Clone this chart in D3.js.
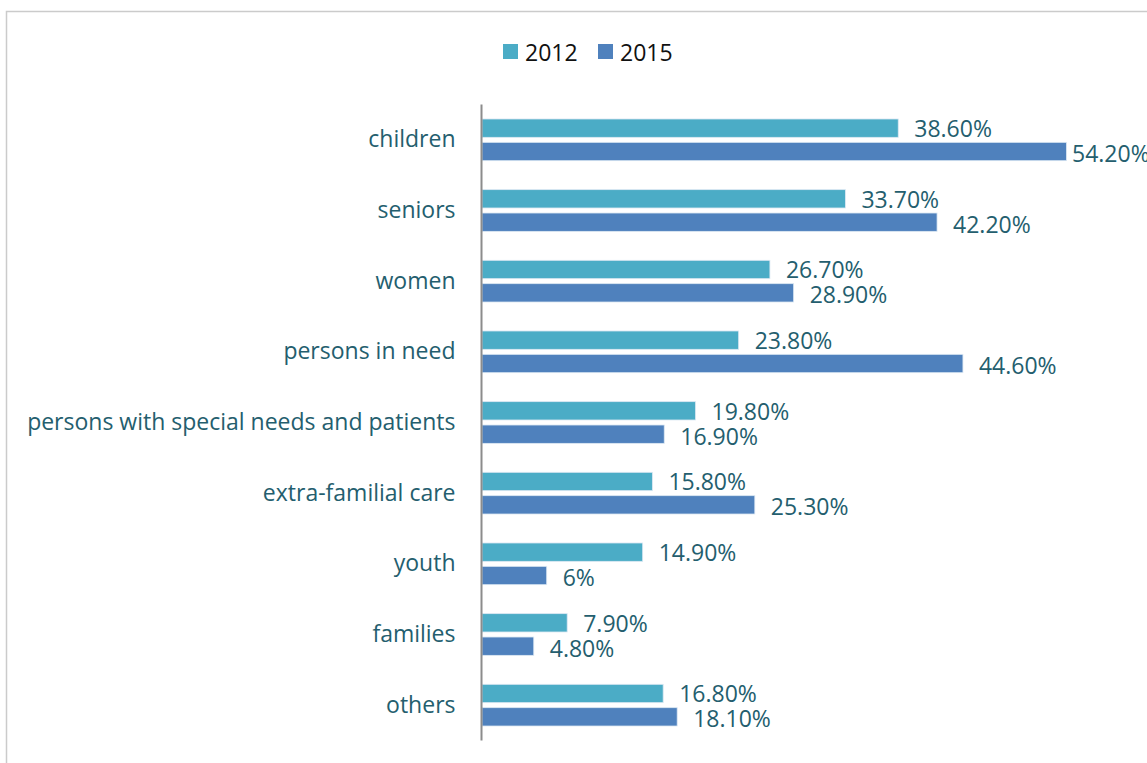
<!DOCTYPE html>
<html><head><meta charset="utf-8">
<script src="https://cdn.jsdelivr.net/npm/d3@7"></script>
<style>body{margin:0;background:#fff}svg{display:block}</style>
</head><body>
<svg id="c" width="1147" height="763"></svg>
<script>
const categories = ["children","seniors","women","persons in need","persons with special needs and patients","extra-familial care","youth","families","others"];
const series = ["2012","2015"];
const values2012 = [38.6,33.7,26.7,23.8,19.8,15.8,14.9,7.9,16.8];
const values2015 = [54.2,42.2,28.9,44.6,16.9,25.3,6,4.8,18.1];
const colors = ["#4BACC6","#4F81BD"];

const W = 1147, H = 763;
const svg = d3.select("#c");
const font = "'Open Sans', sans-serif";
const fs = 23;
const textCol = "#245E6E";

// frame
svg.append("rect").attr("x",6.5).attr("y",11.5).attr("width",W+20).attr("height",H+20)
  .attr("fill","none").attr("stroke","#cbcbcb").attr("stroke-width",1.5);

const y0 = d3.scaleBand().domain(categories).range([104.5,740.5]).paddingInner(0.41).paddingOuter(0.205);
const y1 = d3.scaleBand().domain(series).range([0,y0.bandwidth()]).paddingInner(0.215).paddingOuter(0);
const x = d3.scaleLinear().domain([0,60]).range([482,1129]);

const data = categories.map((c,i)=>({cat:c, vals:[{s:"2012",v:values2012[i]},{s:"2015",v:values2015[i]}]}));
const fmt = v => Number.isInteger(v) ? v+"%" : v.toFixed(2)+"%";

const g = svg.selectAll("g.cat").data(data).join("g").attr("class","cat")
  .attr("transform",d=>`translate(0,${y0(d.cat)})`);

g.selectAll("rect").data(d=>d.vals).join("rect")
  .attr("x",x(0)).attr("y",d=>y1(d.s)).attr("height",y1.bandwidth())
  .attr("width",d=>x(d.v)-x(0))
  .attr("fill",(d,i)=>colors[i]).attr("stroke","#dce8f3").attr("stroke-width",0.8);

g.selectAll("text.val").data(d=>d.vals).join("text").attr("class","val")
  .attr("x",d=>Math.min(x(d.v)+16, W-75))
  .attr("y",(d,i)=>y1(d.s)+y1.bandwidth()/2+(i?1.5:0))
  .attr("dominant-baseline","central")
  .attr("font-family",font).attr("font-size",fs).attr("fill",textCol)
  .text(d=>fmt(d.v));

// category axis
const axis = d3.axisLeft(y0).tickSize(0).tickPadding(26);
const ax = svg.append("g").attr("transform",`translate(${x(0)-0.5},0)`).call(axis);
ax.select(".domain").attr("stroke","#8c8c8c").attr("stroke-width",2).attr("d","M0,104.5V740.5");
ax.selectAll("text").attr("font-family",font).attr("font-size",fs).attr("fill",textCol)
  .attr("dy","0.32em");

// legend
const lg = svg.append("g");
const lx = [503,598];
series.forEach((s,i)=>{
  lg.append("rect").attr("x",lx[i]).attr("y",44).attr("width",15).attr("height",15).attr("fill",colors[i]);
  lg.append("text").attr("x",lx[i]+22).attr("y",51.5).attr("dominant-baseline","central")
    .attr("font-family",font).attr("font-size",fs).attr("fill","#111").text(s);
});
</script>
</body></html>
